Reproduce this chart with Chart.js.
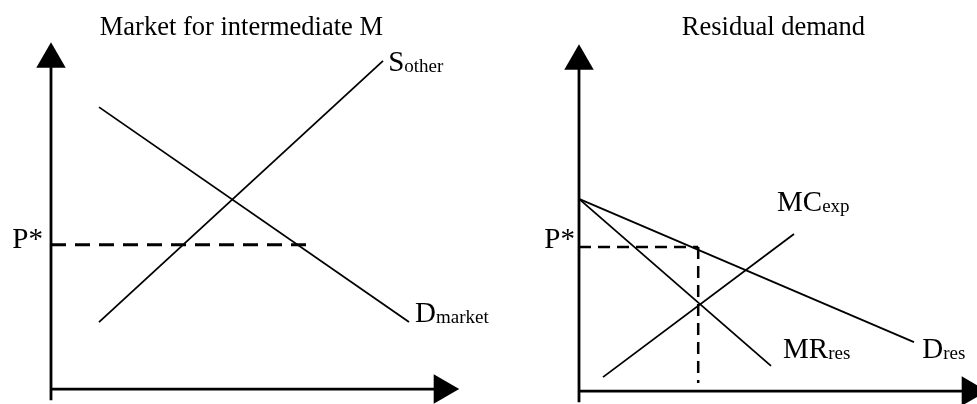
<!DOCTYPE html>
<html lang="en">
<head>
<meta charset="UTF-8" />
<title>Market for intermediate M / Residual demand</title>
<script src="https://cdn.jsdelivr.net/npm/chart.js"></script>
<style>
  body { margin: 0; background: #fff; }
  .wrap { display: flex; width: 977px; height: 404px; }
  canvas { display: block; }
</style>
</head>
<body>
<div class="wrap">
  <canvas id="left" width="489" height="404"></canvas>
  <canvas id="right" width="488" height="404"></canvas>
</div>
<script>
// left panel: market for intermediate M (quantity on x, price on y)
const sOther = [{x: 1.2, y: 1.97}, {x: 8.3, y: 9.65}];
const dMarket = [{x: 1.2, y: 8.29}, {x: 8.95, y: 1.97}];
const pStarLeft = [{x: 0, y: 4.24}, {x: 6.5, y: 4.24}];

// right panel: residual demand facing the exporter
const dRes = [{x: 0, y: 5.65}, {x: 8.375, y: 1.44}];
const mrRes = [{x: 0, y: 5.65}, {x: 4.8, y: 0.74}];
const mcExp = [{x: 0.6, y: 0.41}, {x: 5.375, y: 4.62}];
const pStarRight = [{x: 0, y: 4.24}, {x: 2.98, y: 4.24}];
const qStarRight = [{x: 2.98, y: 4.24}, {x: 2.98, y: 0.24}];

// axes (both panels), arrowheads sit at the far ends
const yAxisLine = [{x: 0, y: -0.33}, {x: 0, y: 9.9}];
const xAxisLine = [{x: 0, y: 0}, {x: 9.9, y: 0}];
const yArrow = [{x: 0, y: 9.7}];
const xArrow = [{x: 9.78, y: 0}];

// text: [x, y, main, subscript, align]
const leftLabels = [
  [-0.2, 4.15, 'P*', '', 'right'],
  [8.43, 9.35, 'S', 'other', 'left'],
  [9.1, 1.97, 'D', 'market', 'left'],
];
const rightLabels = [
  [-0.1, 4.2, 'P*', '', 'right'],
  [4.95, 5.29, 'MC', 'exp', 'left'],
  [5.1, 0.97, 'MR', 'res', 'left'],
  [8.58, 0.97, 'D', 'res', 'left'],
];
const leftTitle = [4.76, 10.41, 'Market for intermediate M'];
const rightTitle = [4.86, 10.47, 'Residual demand'];

const FONT = '"Liberation Serif", "Times New Roman", serif';

function line(data, width, dash) {
  return {
    data, showLine: true, borderColor: '#000', borderWidth: width,
    borderDash: dash || [], pointRadius: 0, clip: false, fill: false
  };
}

function arrow(data, rotation) {
  return {
    data, showLine: false, pointStyle: 'triangle', pointRadius: 17,
    pointRotation: rotation, backgroundColor: '#000', borderColor: '#000',
    borderWidth: 0, clip: false
  };
}

const textPlugin = {
  id: 'textLabels',
  afterDatasetsDraw(chart, args, opts) {
    const ctx = chart.ctx;
    const xs = chart.scales.x, ys = chart.scales.y;
    ctx.save();
    ctx.fillStyle = '#000';
    ctx.textBaseline = 'alphabetic';
    const t = opts.title;
    ctx.font = '26.5px ' + FONT;
    ctx.textAlign = 'center';
    ctx.fillText(t[2], xs.getPixelForValue(t[0]), ys.getPixelForValue(t[1]));
    ctx.textAlign = 'left';
    opts.labels.forEach(([x, y, main, sub, align]) => {
      ctx.font = '29px ' + FONT;
      const wMain = ctx.measureText(main).width;
      ctx.font = '19px ' + FONT;
      const wSub = sub ? ctx.measureText(sub).width : 0;
      let px = xs.getPixelForValue(x);
      const py = ys.getPixelForValue(y);
      if (align === 'right') px -= wMain + wSub;
      ctx.font = '29px ' + FONT;
      ctx.fillText(main, px, py);
      if (sub) {
        ctx.font = '19px ' + FONT;
        ctx.fillText(sub, px + wMain, py + 1);
      }
    });
    ctx.restore();
  }
};

function makeChart(id, datasets, xr, yr, labels, title) {
  return new Chart(document.getElementById(id), {
    type: 'scatter',
    data: { datasets },
    options: {
      responsive: false,
      animation: false,
      events: [],
      layout: { padding: 0, autoPadding: false },
      scales: {
        x: { type: 'linear', min: xr[0], max: xr[1], display: false },
        y: { type: 'linear', min: yr[0], max: yr[1], display: false }
      },
      plugins: {
        legend: { display: false },
        tooltip: { enabled: false },
        textLabels: { labels, title }
      }
    },
    plugins: [textPlugin]
  });
}

makeChart('left', [
  line(yAxisLine, 2.8), line(xAxisLine, 2.8),
  arrow(yArrow, 0), arrow(xArrow, 90),
  line(sOther, 1.8), line(dMarket, 1.8),
  line(pStarLeft, 3, [15, 9])
], [-1.275, 10.95], [-0.44, 11.44], leftLabels, leftTitle);

makeChart('right', [
  line(yAxisLine, 2.8), line(xAxisLine, 2.8),
  arrow(yArrow, 0), arrow(xArrow, 90),
  line(dRes, 1.8), line(mrRes, 1.8), line(mcExp, 1.8),
  line(pStarRight, 2.5, [12, 7]), line(qStarRight, 2.5, [12, 7])
], [-2.25, 9.95], [-0.38, 11.5], rightLabels, rightTitle);
</script>
</body>
</html>
